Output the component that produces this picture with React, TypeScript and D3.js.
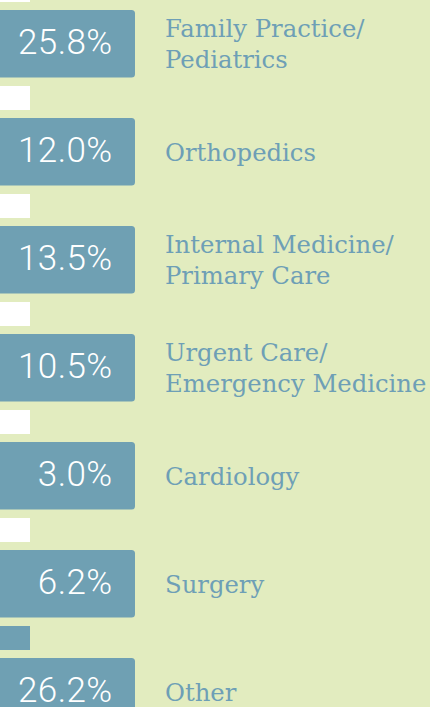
import React from "react";
import * as d3 from "d3";

const categories = [
  "Family Practice/|Pediatrics",
  "Orthopedics",
  "Internal Medicine/|Primary Care",
  "Urgent Care/|Emergency Medicine",
  "Cardiology",
  "Surgery",
  "Other",
];
const values = [25.8, 12.0, 13.5, 10.5, 3.0, 6.2, 26.2];
const markerHighlight = [false, false, false, false, false, false, true];

const W = 430;
const H = 707;
const BG = "#e2ecbf";
const BLUE = "#6fa0b3";
const LABEL = "#6e9fb6";

export default function App() {
  const y = d3
    .scaleBand<string>()
    .domain(categories)
    .range([10, 10 + 6 * 108 + 67.5])
    .paddingInner(0.375)
    .paddingOuter(0);
  const bw = y.bandwidth();
  const fmt = d3.format(".1f");
  const labelSize = 24.3;
  const lineGap = 30.7;
  const cap = labelSize * 0.729;

  return (
    <div style={{ position: "fixed", left: 0, top: 0, width: W, height: H, background: BG }}>
      <svg width={W} height={H} style={{ display: "block" }}>
        <rect x={0} y={0} width={W} height={H} fill={BG} />
        {categories.map((c, i) => {
          const top = y(c)!;
          const lines = c.split("|");
          const center = top + bw / 2;
          const firstBase =
            center + cap / 2 - ((lines.length - 1) * lineGap) / 2;
          return (
            <g key={c}>
              <rect
                x={0}
                y={top - 32}
                width={30}
                height={24}
                fill={markerHighlight[i] ? BLUE : "#ffffff"}
              />
              <rect x={-6} y={top} width={141} height={bw} rx={3.5} fill={BLUE} />
              <text
                x={112.5}
                y={top + 44.3}
                textAnchor="end"
                fill="#ffffff"
                fontFamily="Roboto, 'Liberation Sans', sans-serif"
                fontWeight={300}
                fontSize={35}
                letterSpacing={0.4}
              >
                {fmt(values[i])}%
              </text>
              <text
                x={165}
                fill={LABEL}
                fontFamily="'DejaVu Serif', serif"
                fontSize={labelSize}
              >
                {lines.map((l, j) => (
                  <tspan key={j} x={165} y={firstBase + j * lineGap}>
                    {l}
                  </tspan>
                ))}
              </text>
            </g>
          );
        })}
      </svg>
    </div>
  );
}
